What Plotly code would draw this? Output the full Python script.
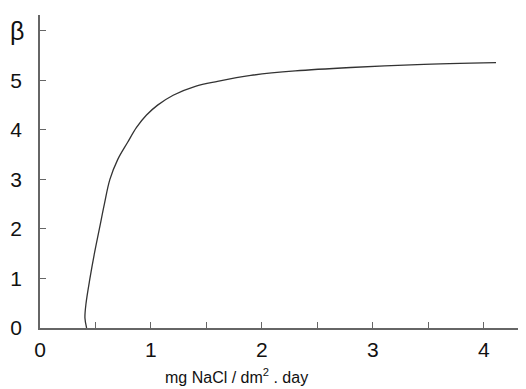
import plotly.graph_objects as go

x_vals = [0.42, 0.405, 0.415, 0.45, 0.49, 0.535, 0.58, 0.63, 0.70, 0.79, 0.87, 0.96, 1.06, 1.2, 1.4, 1.6, 1.9, 2.3, 2.8, 3.4, 4.11]
beta_vals = [0.0, 0.2, 0.5, 1.0, 1.5, 2.0, 2.5, 3.0, 3.4, 3.75, 4.05, 4.3, 4.5, 4.7, 4.88, 4.98, 5.1, 5.19, 5.26, 5.32, 5.36]

x_tickvals = [0, 0.5, 1, 1.5, 2, 2.5, 3, 3.5, 4]
x_ticktext = ["0", "", "1", "", "2", "", "3", "", "4"]
y_tickvals = [0, 1, 2, 3, 4, 5, 6]
y_ticktext = ["0", "1", "2", "3", "4", "5", ""]

x_title = "mg NaCl / dm<sup>2</sup> . day"
y_title = "β"

fig = go.Figure()
fig.add_trace(go.Scatter(x=x_vals, y=beta_vals, mode="lines",
                         line=dict(color="#333333", width=1.3, shape="spline", smoothing=1.0),
                         showlegend=False, hoverinfo="skip"))

font = dict(family="Liberation Sans, Arial, sans-serif", color="#111")
fig.update_layout(
    width=518, height=381,
    margin=dict(l=32, r=0, t=7, b=61, autoexpand=False),
    paper_bgcolor="white", plot_bgcolor="white",
    font=font,
    xaxis=dict(range=[0, 4.38], tickvals=x_tickvals, ticktext=x_ticktext,
               ticks="inside", ticklen=6, tickcolor="#666", tickwidth=1,
               showline=True, linecolor="#666", linewidth=1.5, automargin=False,
               showgrid=False, zeroline=False, tickfont=dict(size=21),
               ticklabelstandoff=2),
    yaxis=dict(range=[0, 6.32], tickvals=y_tickvals, ticktext=y_ticktext,
               ticks="inside", ticklen=6, tickcolor="#666", tickwidth=1,
               showline=True, linecolor="#666", linewidth=1.5, automargin=False,
               showgrid=False, zeroline=False, tickfont=dict(size=21),
               ticklabelstandoff=12),
    annotations=[
        dict(text=x_title, x=(236 - 40) / 486, y=-(388 - 328) / 313, xref="paper", yref="paper",
             xanchor="center", yanchor="bottom", showarrow=False, font=dict(size=16)),
        dict(text=y_title, x=(17 - 40) / 486, y=(328 - 31) / 313, xref="paper", yref="paper",
             xanchor="center", yanchor="middle", showarrow=False, font=dict(size=25)),
    ],
)

fig.write_html("out.html")
